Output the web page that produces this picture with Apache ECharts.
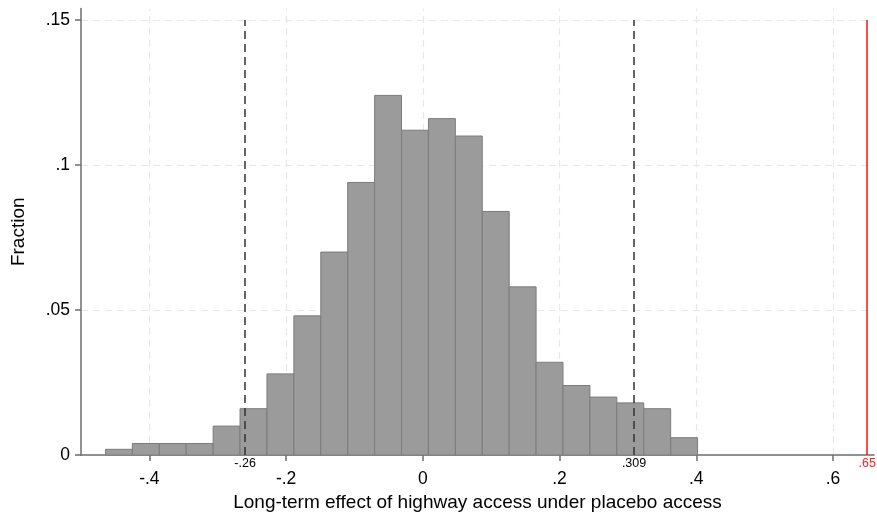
<!DOCTYPE html>
<html>
<head>
<meta charset="utf-8">
<title>Placebo access histogram</title>
<script src="https://cdn.jsdelivr.net/npm/echarts@6/dist/echarts.min.js"></script>
<style>
  html, body { margin: 0; padding: 0; background: #fff; }
  #chart { width: 877px; height: 517px; }
</style>
</head>
<body>
<div id="chart"></div>
<script>
// Histogram of placebo estimates: bin layout and bar fractions
const binStart = -0.4642;
const binWidth = 0.03937;
const fractions = [
  0.002, 0.004, 0.004, 0.004, 0.010, 0.016, 0.028, 0.048, 0.070, 0.094, 0.124,
  0.112, 0.116, 0.110, 0.084, 0.058, 0.032, 0.024, 0.020, 0.018, 0.016, 0.006
];

// Axis ticks
const xTicks = [-0.4, -0.2, 0, 0.2, 0.4, 0.6];
const yTicks = [0, 0.05, 0.1, 0.15];

// Reference lines: percentile bounds and the actual estimate
const boundLines = [
  { value: -0.26, label: '-.26' },
  { value: 0.309, label: '.309' }
];
const actualLine = { value: 0.65, label: '.65' };

const xMin = -0.5, xMax = 0.66;
const yMax = 0.154, lineTop = 0.15;
const FONT = '"Liberation Sans", Arial, sans-serif';

// Stata-style tick text: drop the leading zero
function fmt(v) {
  if (v === 0) return '0';
  const s = String(+v.toFixed(3));
  return s.replace(/^(-?)0\./, '$1.');
}

const bins = fractions.map((f, i) => [binStart + i * binWidth, binStart + (i + 1) * binWidth, f]);

const gridLines = [];
xTicks.forEach(v => gridLines.push([{ coord: [v, 0] }, { coord: [v, yMax] }]));
yTicks.filter(v => v > 0).forEach(v => gridLines.push([{ coord: [xMin, v] }, { coord: [xMax, v] }]));

const chart = echarts.init(document.getElementById('chart'), null, { renderer: 'canvas' });

chart.setOption({
  animation: false,
  backgroundColor: '#ffffff',
  textStyle: { fontFamily: FONT },
  grid: { left: 81, right: 3, top: 8.4, bottom: 58.3, containLabel: false },
  xAxis: {
    type: 'value',
    min: xMin,
    max: xMax,
    name: 'Long-term effect of highway access under placebo access',
    nameLocation: 'middle',
    nameGap: 36,
    nameTextStyle: { fontSize: 19, color: '#000', fontFamily: FONT },
    axisLine: { show: true, onZero: false, lineStyle: { color: '#6e6e6e', width: 1.5 } },
    axisTick: { show: true, length: 6, lineStyle: { color: '#6e6e6e', width: 1.5 }, customValues: xTicks },
    axisLabel: {
      customValues: xTicks, formatter: fmt, fontSize: 17.5, color: '#000',
      margin: 15, fontFamily: FONT, showMinLabel: true, showMaxLabel: true
    },
    splitLine: { show: false }
  },
  yAxis: {
    type: 'value',
    min: 0,
    max: yMax,
    name: 'Fraction',
    nameLocation: 'middle',
    nameGap: 53,
    nameTextStyle: { fontSize: 19, color: '#000', fontFamily: FONT },
    axisLine: { show: true, onZero: false, lineStyle: { color: '#6e6e6e', width: 1.5 } },
    axisTick: { show: true, length: 6, lineStyle: { color: '#6e6e6e', width: 1.5 }, customValues: yTicks },
    axisLabel: {
      customValues: yTicks, formatter: fmt, fontSize: 17.5, color: '#000',
      margin: 11, fontFamily: FONT
    },
    splitLine: { show: false }
  },
  series: [
    {
      // light dashed grid, kept behind the bars
      type: 'line',
      data: [],
      silent: true,
      z: 0,
      markLine: {
        silent: true,
        z: 0,
        symbol: ['none', 'none'],
        label: { show: false },
        lineStyle: { color: '#e8e8e8', type: [7, 5], width: 1.2 },
        data: gridLines
      }
    },
    {
      type: 'custom',
      z: 2,
      data: bins,
      encode: { x: [0, 1], y: 2 },
      renderItem: function (params, api) {
        const p0 = api.coord([api.value(0), api.value(2)]);
        const p1 = api.coord([api.value(1), 0]);
        return {
          type: 'rect',
          shape: { x: p0[0], y: p0[1], width: p1[0] - p0[0], height: p1[1] - p0[1] },
          style: { fill: '#9b9b9b', stroke: '#7c7c7c', lineWidth: 1 }
        };
      }
    },
    {
      // vertical reference lines
      type: 'line',
      data: [],
      silent: true,
      z: 3,
      markLine: {
        silent: true,
        z: 6,
        symbol: ['none', 'none'],
        data: boundLines.map(b => [
          {
            coord: [b.value, 0],
            lineStyle: { color: '#333', type: [8, 5], width: 1.5 },
            label: {
              show: true, position: 'start', formatter: b.label,
              fontSize: 12.5, color: '#000', distance: 2, fontFamily: FONT
            }
          },
          { coord: [b.value, lineTop] }
        ]).concat([[
          {
            coord: [actualLine.value, 0],
            lineStyle: { color: '#ff2020', type: 'solid', width: 1.6 },
            label: {
              show: true, position: 'start', formatter: actualLine.label,
              fontSize: 12.5, color: '#ff2020', distance: 2, fontFamily: FONT
            }
          },
          { coord: [actualLine.value, lineTop] }
        ]])
      }
    }
  ]
});
</script>
</body>
</html>
